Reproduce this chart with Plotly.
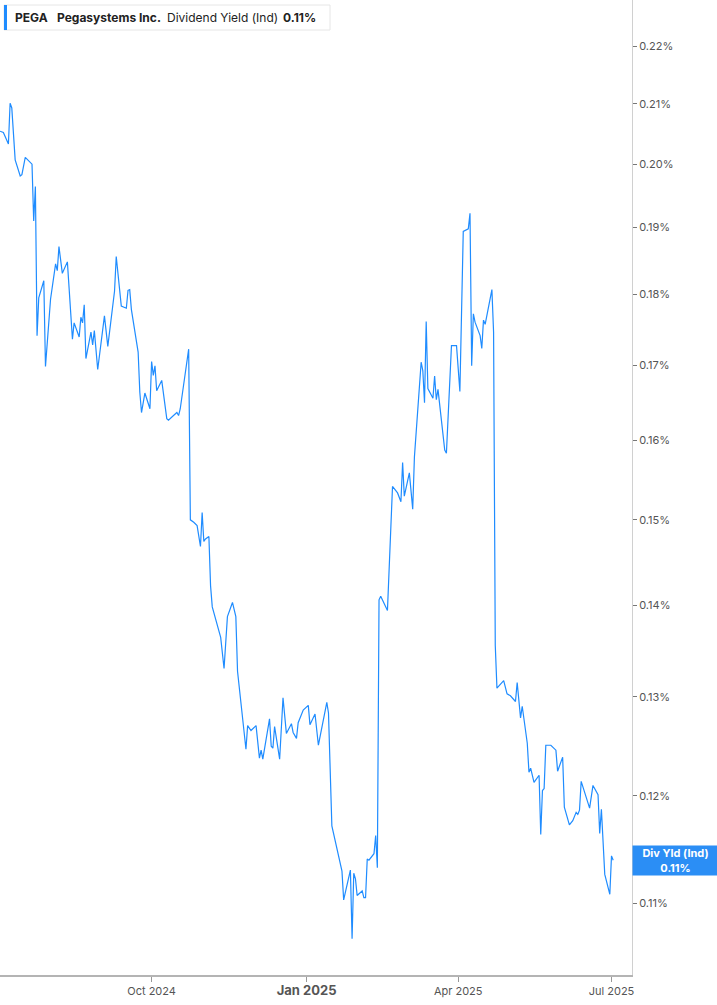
import math

import plotly.graph_objects as go

# PEGA indicated dividend yield, %
dates = [
    "2024-07-03", "2024-07-05", "2024-07-08", "2024-07-09", "2024-07-10", "2024-07-12",
    "2024-07-15", "2024-07-16", "2024-07-18", "2024-07-22", "2024-07-23", "2024-07-24",
    "2024-07-25", "2024-07-26", "2024-07-29", "2024-07-30", "2024-08-02", "2024-08-05",
    "2024-08-06", "2024-08-07", "2024-08-09", "2024-08-12", "2024-08-15", "2024-08-16",
    "2024-08-19", "2024-08-20", "2024-08-21", "2024-08-22", "2024-08-23", "2024-08-26",
    "2024-08-27", "2024-08-28", "2024-08-30", "2024-09-03", "2024-09-05", "2024-09-09",
    "2024-09-10", "2024-09-13", "2024-09-16", "2024-09-17", "2024-09-18", "2024-09-19",
    "2024-09-23", "2024-09-24", "2024-09-25", "2024-09-27", "2024-09-30", "2024-10-01",
    "2024-10-02", "2024-10-03", "2024-10-04", "2024-10-07", "2024-10-10", "2024-10-11",
    "2024-10-14", "2024-10-16", "2024-10-17", "2024-10-18", "2024-10-23", "2024-10-24",
    "2024-10-26", "2024-10-28", "2024-10-30", "2024-10-31", "2024-11-01", "2024-11-02",
    "2024-11-04", "2024-11-05", "2024-11-06", "2024-11-11", "2024-11-13", "2024-11-15",
    "2024-11-18", "2024-11-20", "2024-11-21", "2024-11-26", "2024-11-27", "2024-11-29",
    "2024-12-02", "2024-12-04", "2024-12-05", "2024-12-06", "2024-12-10", "2024-12-11",
    "2024-12-12", "2024-12-13", "2024-12-16", "2024-12-18", "2024-12-20", "2024-12-23",
    "2024-12-24", "2024-12-26", "2024-12-27", "2024-12-30", "2025-01-02", "2025-01-03",
    "2025-01-06", "2025-01-08", "2025-01-13", "2025-01-14", "2025-01-16", "2025-01-22",
    "2025-01-23", "2025-01-27", "2025-01-28", "2025-01-29", "2025-01-30", "2025-01-31",
    "2025-02-03", "2025-02-04", "2025-02-05", "2025-02-06", "2025-02-07", "2025-02-10",
    "2025-02-11", "2025-02-12", "2025-02-13", "2025-02-14", "2025-02-18", "2025-02-21",
    "2025-02-24", "2025-02-26", "2025-02-27", "2025-02-28", "2025-03-03", "2025-03-05",
    "2025-03-06", "2025-03-10", "2025-03-11", "2025-03-12", "2025-03-13", "2025-03-14",
    "2025-03-17", "2025-03-18", "2025-03-19", "2025-03-20", "2025-03-24", "2025-03-25",
    "2025-03-28", "2025-03-31", "2025-04-02", "2025-04-04", "2025-04-07", "2025-04-08",
    "2025-04-09", "2025-04-10", "2025-04-11", "2025-04-14", "2025-04-15", "2025-04-16",
    "2025-04-17", "2025-04-21", "2025-04-22", "2025-04-23", "2025-04-24", "2025-04-28",
    "2025-04-30", "2025-05-02", "2025-05-05", "2025-05-06", "2025-05-08", "2025-05-09",
    "2025-05-12", "2025-05-13", "2025-05-14", "2025-05-16", "2025-05-19", "2025-05-20",
    "2025-05-21", "2025-05-22", "2025-05-23", "2025-05-26", "2025-05-29", "2025-05-30",
    "2025-06-02", "2025-06-03", "2025-06-06", "2025-06-08", "2025-06-10", "2025-06-11",
    "2025-06-12", "2025-06-13", "2025-06-18", "2025-06-20", "2025-06-23", "2025-06-24",
    "2025-06-25", "2025-06-27", "2025-06-30", "2025-07-01", "2025-07-02",
]

div_yield = [
    0.2054, 0.2052, 0.2033, 0.2101, 0.2093, 0.2007,
    0.1981, 0.1983, 0.2011, 0.2000, 0.1910, 0.1964,
    0.1741, 0.1795, 0.1820, 0.1698, 0.1793, 0.1845,
    0.1835, 0.1871, 0.1831, 0.1848, 0.1736, 0.1759,
    0.1739, 0.1767, 0.1759, 0.1785, 0.1709, 0.1746,
    0.1728, 0.1748, 0.1694, 0.1769, 0.1726, 0.1805,
    0.1856, 0.1783, 0.1780, 0.1806, 0.1807, 0.1778,
    0.1718, 0.1663, 0.1636, 0.1662, 0.1641, 0.1705,
    0.1686, 0.1699, 0.1665, 0.1679, 0.1628, 0.1626,
    0.1632, 0.1636, 0.1632, 0.1641, 0.1722, 0.1500,
    0.1497, 0.1493, 0.1468, 0.1509, 0.1474, 0.1477,
    0.1480, 0.1422, 0.1398, 0.1364, 0.1330, 0.1387,
    0.1403, 0.1387, 0.1327, 0.1246, 0.1270, 0.1265,
    0.1270, 0.1237, 0.1245, 0.1236, 0.1277, 0.1249,
    0.1247, 0.1269, 0.1236, 0.1299, 0.1262, 0.1272,
    0.1263, 0.1257, 0.1273, 0.1286, 0.1291, 0.1271,
    0.1282, 0.1250, 0.1294, 0.1283, 0.1171, 0.1129,
    0.1103, 0.1130, 0.1069, 0.1127, 0.1122, 0.1107,
    0.1111, 0.1105, 0.1105, 0.1140, 0.1139, 0.1145,
    0.1162, 0.1132, 0.1406, 0.1410, 0.1394, 0.1541,
    0.1533, 0.1522, 0.1571, 0.1529, 0.1558, 0.1513,
    0.1578, 0.1704, 0.1692, 0.1649, 0.1761, 0.1668,
    0.1655, 0.1685, 0.1653, 0.1667, 0.1587, 0.1583,
    0.1727, 0.1727, 0.1664, 0.1894, 0.1898, 0.1922,
    0.1699, 0.1772, 0.1760, 0.1741, 0.1723, 0.1763,
    0.1757, 0.1807, 0.1746, 0.1355, 0.1309, 0.1317,
    0.1303, 0.1301, 0.1295, 0.1315, 0.1278, 0.1290,
    0.1252, 0.1223, 0.1227, 0.1213, 0.1220, 0.1163,
    0.1205, 0.1207, 0.1250, 0.1250, 0.1245, 0.1224,
    0.1238, 0.1189, 0.1172, 0.1176, 0.1184, 0.1182,
    0.1186, 0.1214, 0.1188, 0.1210, 0.1201, 0.1164,
    0.1187, 0.1126, 0.1108, 0.1143, 0.1139,
]

y_ticks = [0.11, 0.12, 0.13, 0.14, 0.15, 0.16, 0.17, 0.18, 0.19, 0.20, 0.21, 0.22]
y_labels = ["0.11%", "0.12%", "0.13%", "0.14%", "0.15%", "0.16%",
            "0.17%", "0.18%", "0.19%", "0.20%", "0.21%", "0.22%"]
x_ticks = ["2024-10-01", "2025-01-01", "2025-04-01", "2025-07-01"]
x_labels = ["Oct 2024", "<span style='font-size:13px'><b>Jan 2025</b></span>",
            "Apr 2025", "Jul 2025"]

BLUE = "#1f8cff"
FONT = "Inter"

fig = go.Figure()
fig.add_trace(
    go.Scatter(
        x=dates,
        y=div_yield,
        mode="lines",
        line={"color": BLUE, "width": 1.2},
        hoverinfo="x+y",
        showlegend=False,
    )
)

# plot area is 632 x 975 px
W, H = 632, 975


def px(xp):
    return xp / W


def py(yp):
    return 1 - yp / H


shapes = [
    # header box
    dict(type="rect", xref="paper", yref="paper",
         x0=px(4), x1=px(330), y0=py(30), y1=py(5),
         line={"color": "#e6e6e6", "width": 1}, fillcolor="white"),
    dict(type="rect", xref="paper", yref="paper",
         x0=px(4), x1=px(7), y0=py(30), y1=py(5),
         line={"width": 0}, fillcolor=BLUE),
]

header = [
    (13, "<b>PEGA</b>"),
    (55, "<b>Pegasystems Inc.</b>"),
    (165, "Dividend Yield (Ind)"),
    (281, "<b>0.11%</b>"),
]
annotations = [
    dict(xref="paper", yref="paper", x=px(x0), y=py(17.5), text=t,
         xanchor="left", yanchor="middle", showarrow=False,
         font={"family": FONT, "size": 12, "color": "#222"})
    for x0, t in header
]

annotations.append(
    dict(xref="paper", yref="y", x=1, y=math.log10(div_yield[-1]),
         text="<b>Div Yld (Ind)</b><br><b>0.11%</b>",
         xanchor="left", yanchor="middle", showarrow=False,
         bgcolor="#2b8ef5", width=81, height=25, borderpad=2,
         font={"family": FONT, "size": 11, "color": "white"})
)

fig.update_layout(
    width=717,
    height=1005,
    margin={"l": 0, "r": 85, "t": 0, "b": 30},
    paper_bgcolor="white",
    plot_bgcolor="white",
    font={"family": FONT, "size": 11, "color": "#555"},
    shapes=shapes,
    annotations=annotations,
    xaxis=dict(
        type="date",
        range=["2024-07-03", "2025-07-13 04:00"],
        tickvals=x_ticks,
        ticktext=x_labels,
        ticks="outside",
        ticklen=5,
        tickcolor="#999",
        showgrid=False,
        zeroline=False,
        showline=True,
        linecolor="#b4b4b4",
        linewidth=2,
        tickfont={"family": FONT, "size": 11, "color": "#555"},
    ),
    yaxis=dict(
        type="log",
        side="right",
        range=[math.log10(0.1038), math.log10(0.2284)],
        tickvals=y_ticks,
        ticktext=y_labels,
        ticks="outside",
        ticklen=4,
        tickcolor="#777",
        showgrid=False,
        zeroline=False,
        showline=True,
        linecolor="#d0d0d0",
        linewidth=1,
        tickfont={"family": FONT, "size": 11, "color": "#555"},
    ),
)

# drop the browser's default body margin so the chart sits at the page corner
fig.write_html(
    "out.html",
    config={"displayModeBar": False},
    post_script="document.body.style.margin = '0';",
)
